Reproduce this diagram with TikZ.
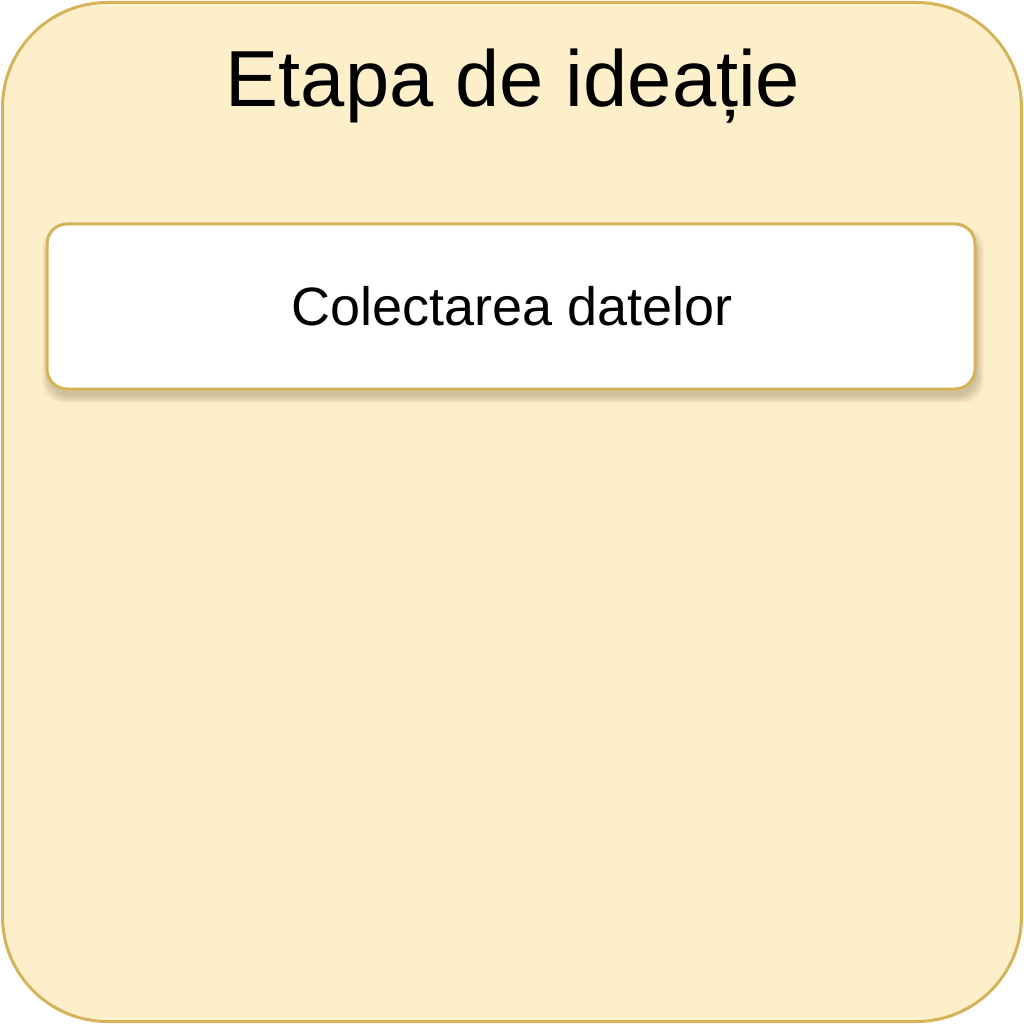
\documentclass[tikz,border=0pt]{standalone}
\usepackage{fontspec}
\setmainfont{Liberation Sans}
\definecolor{panelfill}{HTML}{FCEFC9}
\definecolor{gold}{HTML}{D4B35A}
\begin{document}
\begin{tikzpicture}[x=1pt,y=-1pt,
  panel/.style={draw=gold, line width=3pt, fill=panelfill, rounded corners=105pt},
  card/.style={draw=gold, line width=3pt, fill=white, rounded corners=20pt},
  shade/.style={fill=black!60!gold, rounded corners=22pt},
  title/.style={font=\fontsize{79.5}{95}\selectfont, text=black, inner sep=0pt},
  label/.style={font=\fontsize{54}{65}\selectfont, text=black, inner sep=0pt}]
\useasboundingbox (0,0) rectangle (1024,1024);
\draw[panel] (2.5,2.5) rectangle (1021.5,1021.5);
\node[title, anchor=base] (t) at (513,107) {Etapa de ideație};
% soft shadow
\foreach \i in {1,...,8}{
  \fill[shade, opacity=0.035] (47-\i+3,224-\i+10) rectangle (975+\i+1,389+\i+6);
}
\node[card, minimum width=928pt, minimum height=165pt, inner sep=0pt] (box) at (511,306.5) {};
\node[label, anchor=base] (c) at (512,325) {Colectarea datelor};
\end{tikzpicture}
\end{document}
